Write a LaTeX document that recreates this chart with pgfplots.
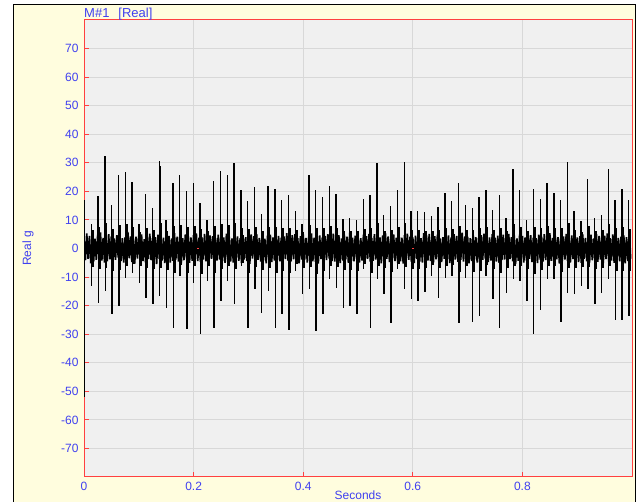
\documentclass[border=0pt]{standalone}
\usepackage{pgfplots}
\pgfplotsset{compat=1.18}
\usepackage{fontspec}
\setmainfont{Liberation Sans}
\definecolor{panel}{RGB}{255,253,222}
\definecolor{plotbg}{RGB}{240,240,240}
\definecolor{gridc}{RGB}{216,216,216}
\definecolor{frame}{RGB}{255,64,64}
\definecolor{lbl}{RGB}{64,64,240}
\begin{document}
\begin{tikzpicture}[x=1pt,y=1pt]
\path[use as bounding box] (0,0) rectangle (639,502);
\begin{scope}
\clip (0,0) rectangle (639,502);
\fill[white] (0,0) rectangle (639,502);
\filldraw[fill=panel, draw=black, line width=1pt] (13,-10) rectangle (635,497);
\begin{axis}[
  at={(84pt,25pt)}, anchor=south west,
  scale only axis, width=548pt, height=457pt,
  xmin=0, xmax=1, ymin=-80, ymax=80,
  xtick={0,0.2,0.4,0.6,0.8},
  ytick={-70,-60,-50,-40,-30,-20,-10,0,10,20,30,40,50,60,70},
  yticklabels={-70,-60,-50,-40,-30,-20,-10,0,10,20,30,40,50,60,70},
  xtick pos=bottom, ytick pos=left,
  axis background/.style={fill=plotbg},
  axis line style={frame, line width=1pt},
  tick style={frame, line width=1pt},
  tick align=inside, major tick length=5pt,
  grid=major, major grid style={gridc, line width=1pt},
  /pgf/number format/assume math mode=true,
  tick label style={font=\fontsize{12}{14}\selectfont, text=lbl},
  yticklabel style={xshift=-2pt},
  xticklabel style={yshift=-1.5pt},
  label style={font=\fontsize{12}{14}\selectfont, text=lbl},
  xlabel={Seconds},
  xlabel style={at={(axis description cs:0.5,-0.029)}, anchor=north, inner sep=0pt},
  ylabel={Real g},
  ylabel style={at={(axis description cs:-0.102,0.5)}, anchor=center},
]
% background band of the signal
\addplot[black, line width=1.7pt] coordinates {
(0.0000,3.2)(0.0025,-4.1)(0.0050,5.3)(0.0075,-3.6)(0.0100,4.4)(0.0125,-5.2)(0.0150,3.9)(0.0175,-4.6)(0.0200,3.4)(0.0225,-4.0)
(0.0250,4.8)(0.0275,-3.3)(0.0300,5.6)(0.0325,-4.2)(0.0350,3.7)(0.0375,-4.9)(0.0400,3.1)(0.0425,-4.5)(0.0450,5.0)(0.0475,-3.8)
(0.0500,4.3)(0.0525,-5.4)(0.0550,3.5)(0.0575,-4.0)(0.0600,4.7)(0.0625,-3.2)(0.0650,5.1)(0.0675,-4.4)(0.0700,3.6)(0.0725,-4.9)
(0.0750,3.9)(0.0775,-4.6)(0.0800,5.8)(0.0825,-3.4)(0.0850,4.2)(0.0875,-4.8)(0.0900,3.7)(0.0925,-5.3)(0.0950,4.1)(0.0975,-3.5)
(0.1000,4.5)(0.1025,-3.9)(0.1050,4.9)(0.1075,-4.4)(0.1100,3.3)(0.1125,-5.0)(0.1150,4.6)(0.1175,-3.7)(0.1200,5.2)(0.1225,-4.1)
(0.1250,3.6)(0.1275,-4.7)(0.1300,4.0)(0.1325,-5.5)(0.1350,4.8)(0.1375,-3.6)(0.1400,4.3)(0.1425,-4.2)(0.1450,3.8)(0.1475,-5.1)
(0.1500,5.0)(0.1525,-3.8)(0.1550,4.4)(0.1575,-4.9)(0.1600,3.5)(0.1625,-4.3)(0.1650,5.4)(0.1675,-3.9)(0.1700,4.1)(0.1725,-4.6)
(0.1750,4.2)(0.1775,-5.2)(0.1800,3.6)(0.1825,-4.1)(0.1850,4.9)(0.1875,-3.7)(0.1900,4.5)(0.1925,-5.0)(0.1950,3.9)(0.1975,-4.3)
(0.2000,4.7)(0.2025,-3.5)(0.2050,5.3)(0.2075,-4.4)(0.2100,3.8)(0.2125,-4.7)(0.2150,4.0)(0.2175,-3.9)(0.2200,5.1)(0.2225,-4.5)
(0.2250,3.4)(0.2275,-4.8)(0.2300,4.6)(0.2325,-3.6)(0.2350,4.3)(0.2375,-5.3)(0.2400,3.7)(0.2425,-4.2)(0.2450,4.8)(0.2475,-3.9)
(0.2500,4.4)(0.2525,-4.5)(0.2550,3.9)(0.2575,-5.0)(0.2600,5.2)(0.2625,-3.8)(0.2650,4.1)(0.2675,-4.6)(0.2700,3.5)(0.2725,-4.9)
(0.2750,5.5)(0.2775,-3.7)(0.2800,4.2)(0.2825,-4.3)(0.2850,3.6)(0.2875,-5.1)(0.2900,4.7)(0.2925,-3.9)(0.2950,4.0)(0.2975,-4.4)
(0.3000,3.8)(0.3025,-5.4)(0.3050,4.9)(0.3075,-3.5)(0.3100,4.3)(0.3125,-4.7)(0.3150,5.0)(0.3175,-4.0)(0.3200,3.7)(0.3225,-4.6)
(0.3250,4.6)(0.3275,-4.1)(0.3300,3.4)(0.3325,-5.2)(0.3350,4.5)(0.3375,-3.6)(0.3400,4.8)(0.3425,-4.8)(0.3450,3.9)(0.3475,-4.2)
(0.3500,5.1)(0.3525,-3.9)(0.3550,4.4)(0.3575,-4.5)(0.3600,3.8)(0.3625,-5.0)(0.3650,4.2)(0.3675,-3.7)(0.3700,5.4)(0.3725,-4.3)
(0.3750,3.5)(0.3775,-4.6)(0.3800,4.7)(0.3825,-3.8)(0.3850,5.0)(0.3875,-4.4)(0.3900,3.6)(0.3925,-5.2)(0.3950,4.3)(0.3975,-3.9)
(0.4000,4.9)(0.4025,-4.0)(0.4050,3.7)(0.4075,-4.9)(0.4100,4.1)(0.4125,-3.6)(0.4150,5.3)(0.4175,-4.5)(0.4200,3.8)(0.4225,-4.7)
(0.4250,4.2)(0.4275,-5.3)(0.4300,4.6)(0.4325,-3.7)(0.4350,3.9)(0.4375,-4.8)(0.4400,4.4)(0.4425,-4.1)(0.4450,5.0)(0.4475,-3.5)
(0.4500,3.6)(0.4525,-4.4)(0.4550,5.2)(0.4575,-4.6)(0.4600,4.0)(0.4625,-3.9)(0.4650,4.7)(0.4675,-5.1)(0.4700,3.5)(0.4725,-4.2)
(0.4750,4.8)(0.4775,-3.8)(0.4800,4.1)(0.4825,-5.0)(0.4850,5.5)(0.4875,-4.3)(0.4900,3.8)(0.4925,-4.5)(0.4950,4.5)(0.4975,-3.7)
(0.5000,4.0)(0.5025,-4.9)(0.5050,3.6)(0.5075,-4.2)(0.5100,4.8)(0.5125,-5.4)(0.5150,4.3)(0.5175,-3.6)(0.5200,5.1)(0.5225,-4.6)
(0.5250,3.7)(0.5275,-4.3)(0.5300,5.0)(0.5325,-3.9)(0.5350,4.4)(0.5375,-4.7)(0.5400,3.9)(0.5425,-5.2)(0.5450,4.6)(0.5475,-4.0)
(0.5500,5.3)(0.5525,-3.6)(0.5550,4.2)(0.5575,-4.8)(0.5600,3.5)(0.5625,-4.1)(0.5650,4.9)(0.5675,-4.4)(0.5700,3.8)(0.5725,-5.0)
(0.5750,4.3)(0.5775,-4.5)(0.5800,3.8)(0.5825,-5.3)(0.5850,4.7)(0.5875,-3.8)(0.5900,5.2)(0.5925,-4.0)(0.5950,4.1)(0.5975,-4.7)
(0.6000,3.9)(0.6025,-5.1)(0.6050,4.5)(0.6075,-3.7)(0.6100,4.0)(0.6125,-4.6)(0.6150,3.6)(0.6175,-4.9)(0.6200,5.4)(0.6225,-3.9)
(0.6250,4.6)(0.6275,-4.2)(0.6300,5.1)(0.6325,-4.4)(0.6350,3.7)(0.6375,-5.0)(0.6400,4.3)(0.6425,-3.8)(0.6450,4.8)(0.6475,-4.5)
(0.6500,3.5)(0.6525,-4.8)(0.6550,4.0)(0.6575,-3.6)(0.6600,5.3)(0.6625,-4.3)(0.6650,4.6)(0.6675,-5.1)(0.6700,3.9)(0.6725,-4.1)
(0.6750,5.0)(0.6775,-3.9)(0.6800,4.4)(0.6825,-4.7)(0.6850,3.8)(0.6875,-4.0)(0.6900,5.5)(0.6925,-4.6)(0.6950,4.2)(0.6975,-3.7)
(0.7000,4.1)(0.7025,-5.2)(0.7050,3.6)(0.7075,-4.4)(0.7100,4.9)(0.7125,-3.8)(0.7150,4.0)(0.7175,-4.9)(0.7200,3.7)(0.7225,-5.3)
(0.7250,4.7)(0.7275,-4.0)(0.7300,5.2)(0.7325,-3.6)(0.7350,4.3)(0.7375,-4.8)(0.7400,3.9)(0.7425,-4.2)(0.7450,5.0)(0.7475,-4.4)
(0.7500,3.8)(0.7525,-4.6)(0.7550,4.5)(0.7575,-5.0)(0.7600,3.6)(0.7625,-4.1)(0.7650,4.8)(0.7675,-3.9)(0.7700,4.2)(0.7725,-5.2)
(0.7750,5.1)(0.7775,-3.7)(0.7800,4.0)(0.7825,-4.5)(0.7850,4.6)(0.7875,-5.4)(0.7900,3.5)(0.7925,-4.3)(0.7950,4.9)(0.7975,-3.8)
(0.8000,4.4)(0.8025,-4.9)(0.8050,3.9)(0.8075,-4.2)(0.8100,5.2)(0.8125,-3.6)(0.8150,4.7)(0.8175,-4.8)(0.8200,3.8)(0.8225,-4.0)
(0.8250,3.6)(0.8275,-5.1)(0.8300,4.8)(0.8325,-3.9)(0.8350,4.1)(0.8375,-4.6)(0.8400,5.0)(0.8425,-4.1)(0.8450,4.5)(0.8475,-3.5)
(0.8500,5.4)(0.8525,-4.3)(0.8550,3.7)(0.8575,-4.7)(0.8600,4.4)(0.8625,-3.8)(0.8650,4.0)(0.8675,-5.3)(0.8700,3.6)(0.8725,-4.5)
(0.8750,4.2)(0.8775,-3.9)(0.8800,5.1)(0.8825,-4.4)(0.8850,3.8)(0.8875,-4.9)(0.8900,4.6)(0.8925,-3.7)(0.8950,5.3)(0.8975,-4.2)
(0.9000,3.9)(0.9025,-4.8)(0.9050,4.3)(0.9075,-5.0)(0.9100,4.9)(0.9125,-3.6)(0.9150,3.7)(0.9175,-4.5)(0.9200,4.1)(0.9225,-4.9)
(0.9250,4.8)(0.9275,-4.1)(0.9300,3.5)(0.9325,-4.3)(0.9350,5.0)(0.9375,-4.7)(0.9400,4.4)(0.9425,-3.9)(0.9450,3.8)(0.9475,-5.1)
(0.9500,4.5)(0.9525,-3.7)(0.9550,5.3)(0.9575,-4.6)(0.9600,3.6)(0.9625,-4.2)(0.9650,4.9)(0.9675,-5.0)(0.9700,4.2)(0.9725,-4.0)
(0.9750,3.7)(0.9775,-4.5)(0.9800,4.1)(0.9825,-3.8)(0.9850,4.6)(0.9875,-5.2)(0.9900,4.0)(0.9925,-4.4)(0.9950,5.5)(0.9975,-3.6)
};
% ringing bursts right after each impact
\addplot[black, line width=2.5pt, ycomb, mark=none] coordinates {
(0.0152,6.5)(0.0276,7.5)(0.0400,9.0)(0.0524,6.8)(0.0648,8.2)(0.0773,8.5)(0.0897,7.6)(0.1021,5.8)
(0.1145,7.2)(0.1269,6.4)(0.1393,9.0)(0.1517,6.0)(0.1641,7.8)(0.1765,8.3)(0.1889,7.4)(0.2014,7.7)
(0.2138,6.9)(0.2262,6.0)(0.2386,8.0)(0.2510,8.4)(0.2634,8.1)(0.2758,8.9)(0.2882,7.3)(0.3006,6.9)
(0.3130,7.6)(0.3255,6.2)(0.3379,7.6)(0.3503,7.4)(0.3627,7.0)(0.3751,7.2)(0.3875,6.4)(0.3999,5.8)
(0.4123,8.2)(0.4247,7.3)(0.4371,7.0)(0.4496,7.7)(0.4620,7.1)(0.4744,6.0)(0.4868,6.1)(0.4992,6.0)
(0.5116,6.9)(0.5240,7.2)(0.5364,8.9)(0.5488,6.2)(0.5612,6.6)(0.5737,7.4)(0.5861,9.0)(0.5985,6.4)
(0.6109,6.3)(0.6233,6.2)(0.6357,6.1)(0.6481,6.6)(0.6605,7.3)(0.6729,6.9)(0.6853,7.8)(0.6978,6.6)
(0.7102,6.5)(0.7226,7.1)(0.7350,7.4)(0.7474,6.4)(0.7598,7.2)(0.7722,6.0)(0.7846,8.5)(0.7970,7.4)
(0.8094,6.0)(0.8219,7.5)(0.8343,7.0)(0.8467,7.8)(0.8591,7.3)(0.8715,7.0)(0.8839,9.0)(0.8963,6.4)
(0.9087,5.9)(0.9211,8.0)(0.9335,6.1)(0.9460,6.3)(0.9584,8.6)(0.9708,7.0)(0.9832,7.4)(0.9956,6.8)
};
\addplot[black, line width=2.5pt, ycomb, mark=none] coordinates {
(0.0158,-6.5)(0.0282,-7.2)(0.0406,-6.8)(0.0530,-7.8)(0.0654,-7.4)(0.0779,-6.0)(0.0903,-5.6)(0.1027,-6.2)
(0.1151,-7.0)(0.1275,-7.3)(0.1399,-6.9)(0.1523,-7.5)(0.1647,-8.6)(0.1771,-5.8)(0.1895,-8.7)(0.2020,-6.2)
(0.2144,-9.0)(0.2268,-6.1)(0.2392,-8.5)(0.2516,-7.1)(0.2640,-6.1)(0.2764,-7.3)(0.2888,-5.2)(0.3012,-8.5)
(0.3136,-6.6)(0.3261,-7.7)(0.3385,-6.7)(0.3509,-8.5)(0.3633,-7.8)(0.3757,-8.6)(0.3881,-5.5)(0.4005,-6.9)
(0.4129,-6.6)(0.4253,-8.8)(0.4377,-7.9)(0.4502,-6.0)(0.4626,-6.5)(0.4750,-7.5)(0.4874,-7.4)(0.4998,-7.9)
(0.5122,-5.4)(0.5246,-8.5)(0.5370,-6.0)(0.5494,-6.9)(0.5618,-8.2)(0.5743,-5.4)(0.5867,-6.6)(0.5991,-7.1)
(0.6115,-7.2)(0.6239,-6.7)(0.6363,-5.8)(0.6487,-7.0)(0.6611,-6.0)(0.6735,-5.8)(0.6859,-8.2)(0.6984,-6.0)
(0.7108,-8.1)(0.7232,-7.9)(0.7356,-5.7)(0.7480,-7.1)(0.7604,-8.5)(0.7728,-6.8)(0.7852,-6.0)(0.7976,-6.2)
(0.8100,-7.2)(0.8225,-8.9)(0.8349,-7.6)(0.8473,-6.0)(0.8597,-6.0)(0.8721,-8.1)(0.8845,-6.8)(0.8969,-6.9)
(0.9093,-6.4)(0.9217,-6.5)(0.9341,-7.3)(0.9466,-6.8)(0.9590,-6.0)(0.9714,-8.0)(0.9838,-8.0)(0.9962,-7.8)
};
% positive impacts
\addplot[black, line width=1.4pt, ycomb, mark=none] coordinates {
(0.0004,17)
(0.0134,8.4)(0.0258,18.3)(0.0382,32.5)(0.0394,28.8)(0.0506,15.4)(0.0630,25.9)(0.0755,26.8)(0.0879,23.2)(0.1003,8.4)
(0.1127,19.1)(0.1251,14.2)(0.1375,30.8)(0.1387,29.0)(0.1499,9.9)(0.1623,23.0)(0.1747,25.9)(0.1871,20.0)(0.1996,23.0)
(0.2120,16.0)(0.2244,10.1)(0.2368,23.6)(0.2492,27.0)(0.2616,25.9)(0.2740,30.0)(0.2864,20.6)(0.2988,16.6)(0.3112,21.6)
(0.3237,11.9)(0.3361,21.8)(0.3485,20.9)(0.3609,17.1)(0.3733,18.9)(0.3857,13.1)(0.3981,8.4)
(0.4105,25.9)(0.4229,20.6)(0.4353,18.0)(0.4478,22.0)(0.4602,19.1)(0.4726,10.4)(0.4850,10.7)(0.4974,10.1)(0.5098,17.4)
(0.5222,18.9)(0.5346,30.0)(0.5470,11.7)(0.5594,14.8)(0.5719,20.6)(0.5843,30.2)(0.5967,13.1)
(0.6091,13.1)(0.6215,12.7)(0.6339,11.3)(0.6463,14.5)(0.6587,19.5)(0.6711,16.6)(0.6835,23.0)(0.6960,15.4)(0.7084,14.2)
(0.7208,18.1)(0.7332,20.6)(0.7456,13.6)(0.7580,18.9)(0.7704,10.7)(0.7828,27.7)(0.7952,20.6)
(0.8076,10.1)(0.8201,20.9)(0.8325,17.4)(0.8449,23.0)(0.8573,19.5)(0.8697,17.1)(0.8821,30.2)(0.8945,13.1)(0.9069,9.6)
(0.9193,24.2)(0.9317,10.7)(0.9442,11.6)(0.9566,27.9)(0.9690,17.1)(0.9814,20.9)(0.9938,17.0)
};
% negative impacts
\addplot[black, line width=1.4pt, ycomb, mark=none] coordinates {
(0.0012,-52)
(0.0140,-13.2)(0.0264,-19.0)(0.0388,-15.0)(0.0512,-23.0)(0.0636,-20.0)(0.0761,-10.3)(0.0885,-8.5)(0.1009,-12.0)
(0.1133,-17.3)(0.1257,-19.6)(0.1381,-16.7)(0.1505,-20.8)(0.1629,-27.8)(0.1753,-9.7)(0.1877,-28.1)(0.2002,-12.0)
(0.2126,-30.1)(0.2250,-11.4)(0.2374,-27.8)(0.2498,-18.4)(0.2622,-11.4)(0.2746,-19.6)(0.2870,-6.0)(0.2994,-27.8)
(0.3118,-14.3)(0.3243,-22.5)(0.3367,-15.0)(0.3491,-27.8)(0.3615,-22.9)(0.3739,-28.4)(0.3863,-7.9)(0.3987,-16.1)
(0.4111,-14.3)(0.4235,-28.9)(0.4359,-23.1)(0.4484,-10.8)(0.4608,-13.8)(0.4732,-20.8)(0.4856,-20.2)(0.4980,-23.1)
(0.5104,-7.3)(0.5228,-27.8)(0.5352,-10.8)(0.5476,-16.1)(0.5600,-26.0)(0.5725,-7.3)(0.5849,-14.3)(0.5973,-17.8)
(0.6097,-18.4)(0.6221,-15.3)(0.6345,-9.7)(0.6469,-17.3)(0.6593,-10.3)(0.6717,-9.7)(0.6841,-26.0)(0.6966,-10.3)
(0.7090,-25.8)(0.7214,-23.7)(0.7338,-9.5)(0.7462,-17.8)(0.7586,-27.8)(0.7710,-15.5)(0.7834,-10.8)(0.7958,-11.4)
(0.8082,-18.4)(0.8207,-29.8)(0.8331,-21.4)(0.8455,-10.8)(0.8579,-10.8)(0.8703,-25.8)(0.8827,-15.5)(0.8951,-16.1)
(0.9075,-13.2)(0.9199,-14.1)(0.9323,-19.6)(0.9448,-15.5)(0.9572,-10.8)(0.9696,-24.9)(0.9820,-24.9)(0.9944,-23.7)
};
% block markers on the zero line
\addplot[frame, line width=1pt] coordinates {(0.2070,0)(0.2100,0)};
\addplot[frame, line width=1pt] coordinates {(0.5985,0)(0.6015,0)};
\end{axis}
\node[anchor=base west, text=lbl, font=\fontsize{13}{15}\selectfont, inner sep=0pt]
  at (84,484) {M\#1\hspace{9pt}[Real]};
\end{scope}
\end{tikzpicture}
\end{document}
